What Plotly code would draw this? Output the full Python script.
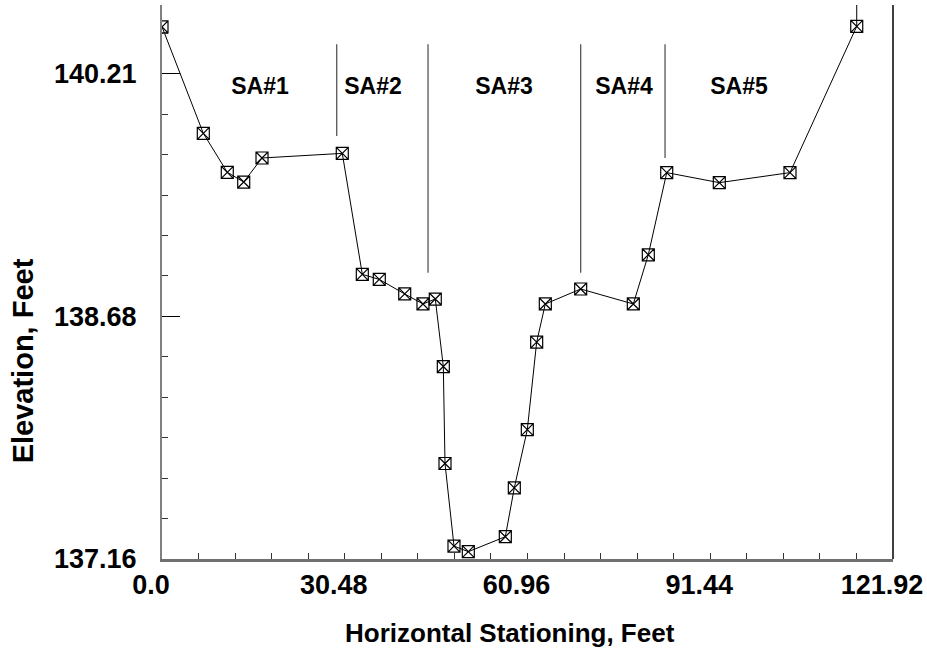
import numpy as np
import plotly.graph_objects as go

# ground profile (station ft, elevation ft)
station = [0.0, 6.89, 10.89, 13.63, 16.68, 30.07, 33.41, 36.24, 40.48, 43.53,
           45.58, 46.92, 47.20, 48.70, 51.09, 57.26, 58.76, 60.93, 62.49, 63.93,
           69.83, 78.61, 81.11, 84.18, 92.95, 104.74, 115.87]
elev = [140.503, 139.834, 139.589, 139.528, 139.679, 139.708, 138.948, 138.916, 138.825, 138.762,
        138.793, 138.369, 137.760, 137.241, 137.206, 137.300, 137.607, 137.973, 138.522, 138.762,
        138.856, 138.762, 139.071, 139.587, 139.524, 139.587, 140.506]

# bank extension above last point
bank_top = 140.64

# subarea dividers
div_x = [29.14, 44.37, 69.83, 83.90]
div_bottom = [139.817, 138.958, 138.958, 139.679]
div_top = 140.393

# subarea labels
sa_labels = ["SA#1", "SA#2", "SA#3", "SA#4", "SA#5"]
sa_x = [16.35, 35.19, 57.04, 77.06, 96.24]
sa_y = 140.117

x_ticks = [0.0, 30.48, 60.96, 91.44, 121.92]
x_ticktext = ["0.0", "30.48", "60.96", "91.44", "121.92"]
y_ticks = [137.16, 138.684, 140.208]
y_ticktext = ["137.16", "138.68", "140.21"]

font = "Liberation Sans, Arial, sans-serif"

fig = go.Figure()

dx, dy = [], []
for x, yb in zip(div_x, div_bottom):
    dx += [x, x, None]
    dy += [yb, div_top, None]
fig.add_trace(go.Scatter(x=dx, y=dy, mode="lines",
                         line=dict(color="#555555", width=1.3), hoverinfo="skip"))

fig.add_trace(go.Scatter(x=[station[-1], station[-1]], y=[elev[-1], bank_top], mode="lines",
                         line=dict(color="black", width=1), hoverinfo="skip"))

fig.add_trace(go.Scatter(x=station, y=elev, mode="lines+markers",
                         line=dict(color="black", width=1),
                         marker=dict(symbol="square-x-open", size=12, color="black",
                                     line=dict(width=1.2))))

fig.add_trace(go.Scatter(x=sa_x, y=[sa_y] * len(sa_x), mode="text", text=sa_labels,
                         textfont=dict(family=font, size=23, color="black", weight="bold")))

fig.update_layout(
    width=927, height=658,
    margin=dict(l=162, r=34, t=5, b=99),
    plot_bgcolor="white", paper_bgcolor="white",
    showlegend=False,
    font=dict(family=font, color="black"),
    shapes=[dict(type="line", xref="paper", yref="paper", x0=1, x1=1, y0=0, y1=1,
                 line=dict(color="black", width=1.5))],
    annotations=[
        dict(text="Horizontal Stationing, Feet", xref="paper", yref="paper",
             x=0.476, y=-0.1336, xanchor="center", yanchor="middle", showarrow=False,
             font=dict(size=26, weight="bold")),
        dict(text="Elevation, Feet", xref="paper", yref="paper", textangle=-90,
             x=-0.19, y=0.357, xanchor="center", yanchor="middle", showarrow=False,
             font=dict(size=29, weight="bold")),
    ],
)

fig.update_xaxes(
    range=[0, 121.92], tickmode="array", tickvals=x_ticks, ticktext=x_ticktext,
    ticks="inside", ticklen=6, tickcolor="#333", tickwidth=1,
    minor=dict(tickmode="array", tickvals=list(np.arange(0, 121.93, 6.096)),
               ticks="inside", ticklen=6, tickcolor="#333"),
    showline=True, linecolor="#707070", linewidth=2.5,
    showgrid=False, zeroline=False, ticklabelshift=-11,
    tickfont=dict(size=27, weight="bold"),
)
fig.update_yaxes(
    range=[137.16, 140.64], tickmode="array", tickvals=y_ticks, ticktext=y_ticktext,
    ticks="inside", ticklen=18, tickcolor="black", tickwidth=1.2,
    minor=dict(tickmode="array", tickvals=list(np.arange(137.16, 140.64, 0.254)),
               ticks="inside", ticklen=6, tickcolor="#333"),
    showline=True, linecolor="#808080", linewidth=2,
    showgrid=False, zeroline=False, ticklabelstandoff=18,
    tickfont=dict(size=27, weight="bold"),
)

fig.write_html("out.html", config={"displayModeBar": False},
               post_script="document.body.style.margin='0';")
